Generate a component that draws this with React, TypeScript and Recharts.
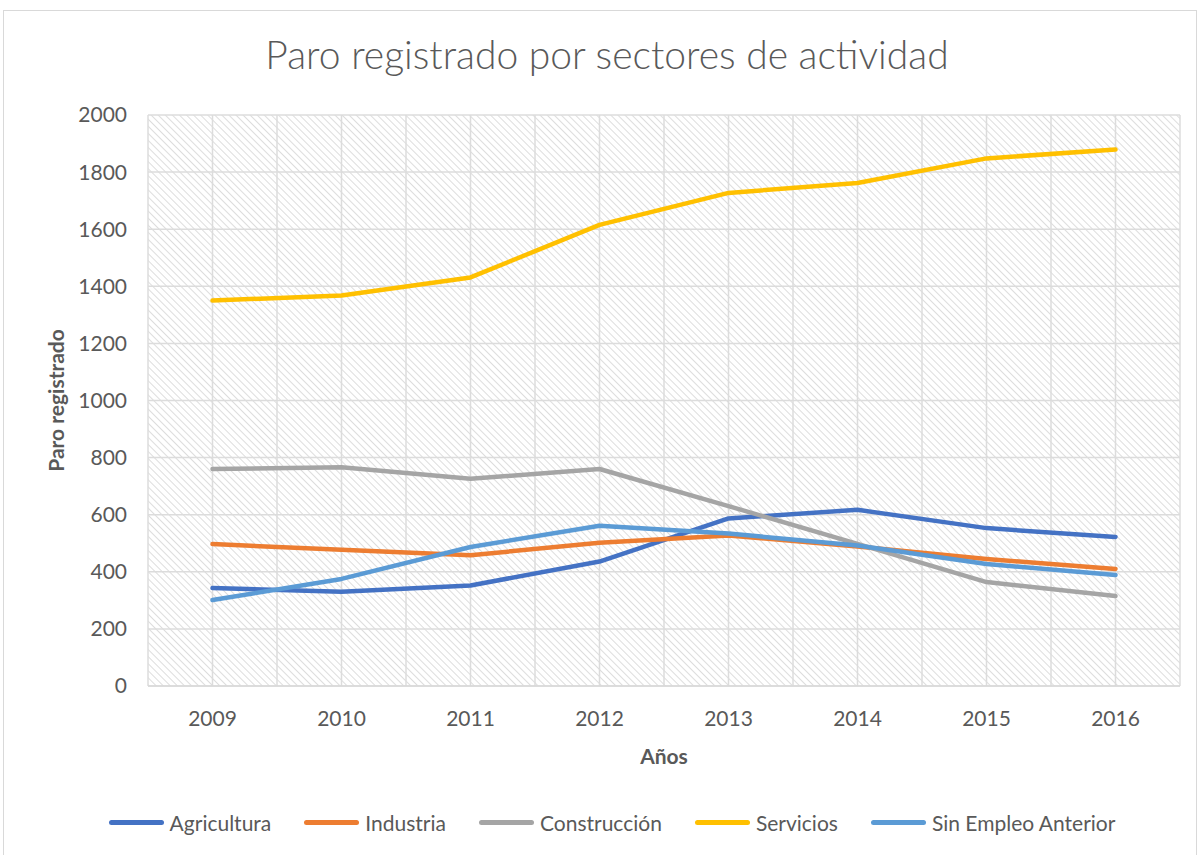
import React from "react";
import { LineChart, Line, XAxis, YAxis, CartesianGrid, Label } from "recharts";

const years = ["2009", "2010", "2011", "2012", "2013", "2014", "2015", "2016"];
const agricultura = [343, 330, 352, 436, 587, 617, 553, 522];
const industria = [497, 477, 458, 502, 527, 489, 445, 410];
const construccion = [760, 766, 726, 760, 630, 498, 364, 315];
const servicios = [1350, 1368, 1431, 1615, 1727, 1762, 1848, 1879];
const sinEmpleo = [301, 375, 487, 561, 534, 492, 427, 389];
const yTicks = [0, 200, 400, 600, 800, 1000, 1200, 1400, 1600, 1800, 2000];

const series = [
  { key: "agricultura", name: "Agricultura", color: "#4472C4", values: agricultura },
  { key: "industria", name: "Industria", color: "#ED7D31", values: industria },
  { key: "construccion", name: "Construcción", color: "#A5A5A5", values: construccion },
  { key: "servicios", name: "Servicios", color: "#FFC000", values: servicios },
  { key: "sinEmpleo", name: "Sin Empleo Anterior", color: "#5B9BD5", values: sinEmpleo },
];

const data = years.map((y, i) => {
  const row: any = { year: y };
  series.forEach((s) => (row[s.key] = s.values[i]));
  return row;
});

const font = "Lato, 'Open Sans', sans-serif";
const textColor = "#595959";

const App = () => {
  return (
    <div style={{ position: "absolute", left: 0, top: 0, width: 1200, height: 855, background: "#fff", fontFamily: font }}>
      <div
        style={{
          position: "absolute",
          left: 3,
          top: 10,
          width: 1192,
          height: 850,
          border: "1px solid #d9d9d9",
        }}
      />
      <div
        style={{
          position: "absolute",
          left: 0,
          width: 1214,
          top: 31,
          textAlign: "center",
          fontSize: 39,
          fontWeight: 300,
          color: textColor,
          whiteSpace: "nowrap",
        }}
      >
        Paro registrado por sectores de actividad
      </div>
      <div style={{ position: "absolute", left: 0, top: 0 }}>
        <LineChart
          width={1200}
          height={855}
          data={data}
          margin={{ top: 115, right: 20, left: 48, bottom: 109 }}
        >
          <defs>
            <pattern id="hatch" width="5" height="5" patternUnits="userSpaceOnUse" patternTransform="rotate(-45)">
              <rect width="5" height="5" fill="#ffffff" />
              <line x1="0" y1="0" x2="0" y2="5" stroke="#d9d9d9" strokeWidth="1.8" />
            </pattern>
          </defs>
          <CartesianGrid
            fill="url(#hatch)"
            stroke="#dcdcdc"
            strokeWidth={1.5}
            verticalCoordinatesGenerator={({ offset }: any) =>
              Array.from({ length: 17 }, (_, i) => offset.left + (i * offset.width) / 16)
            }
          />
          <XAxis
            dataKey="year"
            height={60}
            padding={{ left: 64.5, right: 64.5 }}
            tickLine={false}
            tickSize={0}
            tickMargin={25}
            axisLine={{ stroke: "#d9d9d9", strokeWidth: 1.5 }}
            tick={{ fill: textColor, fontSize: 21, fontFamily: font }}
          >
            <Label
              content={({ viewBox }: any) => (
                <text
                  x={viewBox.x + viewBox.width / 2}
                  y={764}
                  textAnchor="middle"
                  fill={textColor}
                  fontSize={21}
                  fontWeight="bold"
                  fontFamily={font}
                >
                  Años
                </text>
              )}
            />
          </XAxis>
          <YAxis
            width={100}
            domain={[0, 2000]}
            ticks={yTicks}
            interval={0}
            axisLine={false}
            tickLine={false}
            tickSize={0}
            tickMargin={21}
            tick={{ fill: textColor, fontSize: 21, fontFamily: font }}
          >
            <Label
              content={({ viewBox }: any) => (
                <text
                  x={64}
                  y={viewBox.y + viewBox.height / 2}
                  transform={`rotate(-90, 64, ${viewBox.y + viewBox.height / 2})`}
                  textAnchor="middle"
                  fill={textColor}
                  fontSize={21}
                  fontWeight="bold"
                  fontFamily={font}
                >
                  Paro registrado
                </text>
              )}
            />
          </YAxis>
          {series.map((s) => (
            <Line
              key={s.key}
              type="linear"
              dataKey={s.key}
              name={s.name}
              stroke={s.color}
              strokeWidth={4.5}
              strokeLinecap="round"
              strokeLinejoin="round"
              dot={false}
              activeDot={false}
              isAnimationActive={false}
            />
          ))}
        </LineChart>
      </div>
      <div
        style={{
          position: "absolute",
          left: 0,
          width: 1224,
          top: 810,
          display: "flex",
          justifyContent: "center",
          gap: 33,
          fontSize: 21,
          color: textColor,
        }}
      >
        {series.map((s) => (
          <div key={s.key} style={{ display: "flex", alignItems: "center" }}>
            <div style={{ width: 55, height: 5, borderRadius: 3, background: s.color, marginRight: 6 }} />
            <span>{s.name}</span>
          </div>
        ))}
      </div>
    </div>
  );
};

export default App;
